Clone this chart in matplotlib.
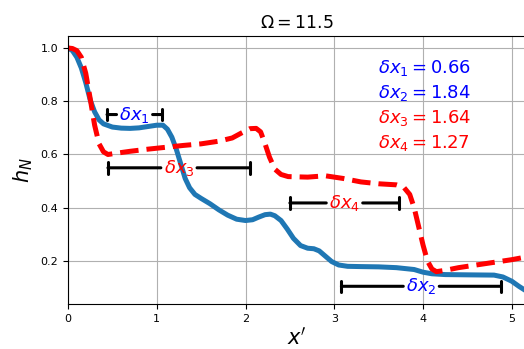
import matplotlib
matplotlib.use("Agg")
import matplotlib.pyplot as plt

# Blue solid curve
blue_x = [0.00, 0.05, 0.10, 0.15, 0.20, 0.25, 0.30, 0.35, 0.40, 0.50, 0.60, 0.70, 0.80, 0.90,
          1.00, 1.07, 1.12, 1.17, 1.22, 1.27, 1.32, 1.37, 1.43, 1.50, 1.60, 1.70, 1.80, 1.90,
          2.00, 2.08, 2.15, 2.22, 2.28, 2.33, 2.40, 2.47, 2.54, 2.62, 2.70, 2.77, 2.83, 2.90,
          2.97, 3.05, 3.15, 3.30, 3.50, 3.70, 3.90, 4.00, 4.10, 4.25, 4.50, 4.80, 4.90, 5.00,
          5.08, 5.16]
blue_y = [1.000, 0.990, 0.965, 0.925, 0.870, 0.805, 0.760, 0.730, 0.715, 0.703, 0.699, 0.698, 0.700, 0.705,
          0.710, 0.710, 0.695, 0.665, 0.620, 0.565, 0.510, 0.475, 0.450, 0.435, 0.415, 0.392, 0.372, 0.357,
          0.352, 0.355, 0.365, 0.374, 0.376, 0.370, 0.352, 0.320, 0.285, 0.258, 0.248, 0.246, 0.238, 0.218,
          0.198, 0.185, 0.180, 0.179, 0.178, 0.175, 0.168, 0.158, 0.152, 0.149, 0.148, 0.147, 0.140, 0.124,
          0.105, 0.088]

# Red dashed curve
red_x = [0.00, 0.05, 0.10, 0.15, 0.20, 0.25, 0.30, 0.35, 0.40, 0.45, 0.55, 0.70, 0.90, 1.10,
         1.30, 1.50, 1.70, 1.85, 1.95, 2.05, 2.12, 2.17, 2.22, 2.27, 2.33, 2.40, 2.48, 2.70,
         2.90, 3.10, 3.30, 3.50, 3.70, 3.78, 3.85, 3.90, 3.95, 4.00, 4.05, 4.10, 4.15, 4.25,
         4.40, 4.60, 4.80, 5.00, 5.16]
red_y = [1.000, 0.998, 0.990, 0.965, 0.905, 0.810, 0.710, 0.640, 0.610, 0.600, 0.605, 0.612, 0.620, 0.627,
         0.634, 0.640, 0.650, 0.662, 0.680, 0.697, 0.698, 0.685, 0.640, 0.590, 0.545, 0.525, 0.517, 0.515,
         0.520, 0.510, 0.497, 0.490, 0.486, 0.478, 0.450, 0.400, 0.330, 0.260, 0.200, 0.170, 0.160, 0.165,
         0.175, 0.185, 0.195, 0.205, 0.215]

# Interval bars
bar_labels = [r'$\delta x_1$', r'$\delta x_3$', r'$\delta x_4$', r'$\delta x_2$']
bar_colors = ['b', 'r', 'r', 'b']
bar_start = [0.44, 0.45, 2.50, 3.08]
bar_end = [1.06, 2.05, 3.73, 4.88]
bar_y = [0.75, 0.55, 0.418, 0.105]

# Value texts
dx_names = [r'\delta x_1', r'\delta x_2', r'\delta x_3', r'\delta x_4']
dx_values = [0.66, 1.84, 1.64, 1.27]
dx_colors = ['b', 'b', 'r', 'r']
dx_text_y = [0.925, 0.831, 0.737, 0.644]

fig = plt.figure(figsize=(5.24, 3.49), dpi=100)
ax = fig.add_axes([68 / 524, 45 / 349, 458 / 524, 268 / 349])

ax.plot(blue_x, blue_y, color='#1f77b4', lw=3.6, solid_capstyle='round')
ax.plot(red_x, red_y, color='r', lw=3.6, linestyle='--')

for lab, c, x0, x1, y in zip(bar_labels, bar_colors, bar_start, bar_end, bar_y):
    xc = (x0 + x1) / 2
    for k, xe in enumerate((x0, x1)):
        ax.annotate(lab, xy=(xe, y), xytext=(xc, y), ha='center', va='center',
                    fontsize=13, color=c if k == 0 else 'none',
                    arrowprops=dict(arrowstyle='|-|,widthA=0,widthB=0.32', lw=2.2,
                                    color='k', shrinkA=0, shrinkB=0))

for name, v, c, y in zip(dx_names, dx_values, dx_colors, dx_text_y):
    ax.text(3.49, y, r'$%s = %.2f$' % (name, v), color=c, fontsize=13, va='center', ha='left')

ax.set_xlim(0, 5.16)
ax.set_ylim(0.0385, 1.045)
ax.set_xticks([0, 1, 2, 3, 4, 5])
ax.set_yticks([0.2, 0.4, 0.6, 0.8, 1.0])
ax.tick_params(labelsize=8)
ax.grid(True, color='#b0b0b0', lw=0.8)
ax.set_title(r'$\Omega = 11.5$', fontsize=12.5)
ax.set_xlabel(r"$x'$", fontsize=15, labelpad=2)
ax.set_ylabel(r'$h_N$', fontsize=15)

fig.savefig('out.png', dpi=100)
